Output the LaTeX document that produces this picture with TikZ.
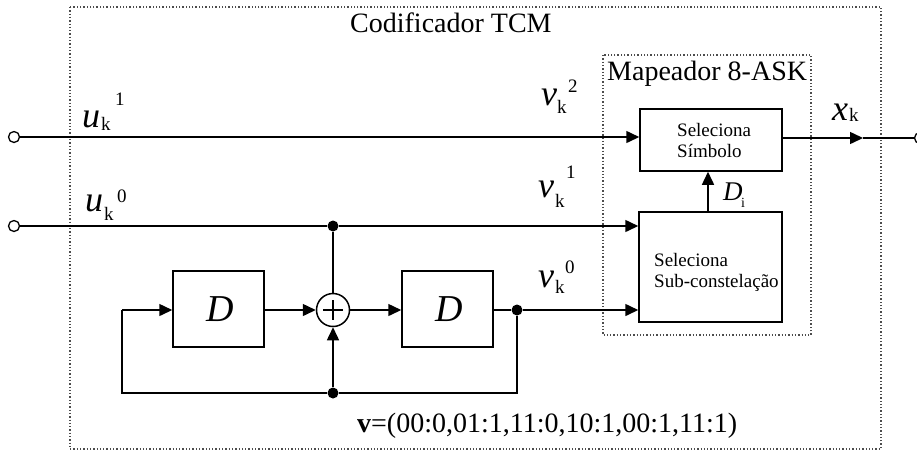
\documentclass[tikz,border=0pt]{standalone}
\usepackage{fontspec}
\setmainfont{Liberation Serif}
\usetikzlibrary{arrows.meta}
\tikzset{
  wire/.style={line width=1.5pt, black},
  arr/.style={wire, -{Triangle[length=13pt,width=12pt]}},
  blk/.style={draw, line width=1.5pt, minimum width=#1, inner sep=0pt},
  frame/.style={draw=black!70, line width=1.3pt, dotted},
  dot/.style={circle, fill=black, inner sep=0pt, minimum size=11pt},
  port/.style={circle, draw, line width=1.3pt, fill=white, inner sep=0pt, minimum size=11pt},
  sym/.style={font=\fontsize{36}{36}\selectfont\itshape, inner sep=0pt, anchor=base west},
  idx/.style={font=\fontsize{19}{19}\selectfont, inner sep=0pt, anchor=base west},
  small/.style={font=\fontsize{19}{21}\selectfont, inner sep=0pt, align=left, anchor=base west},
  big/.style={font=\fontsize{28}{28}\selectfont, inner sep=0pt, anchor=base west}
}
\begin{document}
\begin{tikzpicture}[x=1pt, y=-1pt]
\useasboundingbox (0,0) rectangle (917,451);

% dotted frames
\draw[frame] (70,7) rectangle (881,449);
\draw[frame] (603,55) rectangle (811,335);
\node[big] (title) at (350,32) {Codificador TCM};
\node[big] (map) at (607,80) {Mapeador 8-ASK};

% mapper blocks
\node[blk=142pt, minimum height=62pt] (sel) at (711,140) {};
\node[small] (seltxt) at (677,157) {Seleciona\\Símbolo};
\node[blk=143pt, minimum height=110pt] (sub) at (710.5,267) {};
\node[small] (subtxt) at (654,287) {Seleciona\\Sub-constelação};

% shift register and adder
\node[blk=91pt, minimum height=76pt] (d1) at (218.5,309) {};
\node[sym, font=\fontsize{38}{38}\selectfont\itshape] at (206,321) {D};
\node[blk=91pt, minimum height=76pt] (d2) at (447.5,309) {};
\node[sym, font=\fontsize{38}{38}\selectfont\itshape] at (435,321) {D};
\node[circle, draw, line width=1.5pt, minimum size=33pt, inner sep=0pt] (add) at (333,310) {};
\draw[line width=1.1pt] (323,310) -- (343,310) (333,300) -- (333,320);

% ports and junctions
\node[port] (in1) at (14,137) {};
\node[port] (in0) at (14,226) {};
\node[port] (out) at (920,138) {};
\node[dot] (j1) at (333,226) {};
\node[dot] (j2) at (517,310) {};
\node[dot] (j3) at (333,393) {};
\coordinate (c1) at (517,393);
\coordinate (c2) at (122,393);
\coordinate (c3) at (122,310);
\coordinate (xa) at (863,138);

% connectors
\draw[arr] (in1) -- (sel.west |- in1);
\draw[wire] (in0) -- (j1);
\draw[arr] (j1) -- (sub.west |- j1);
\draw[wire] (j1) -- (add.north);
\draw[arr] (d1.east |- add) -- (add.west);
\draw[arr] (add.east) -- (d2.west |- add);
\draw[wire] (d2.east |- j2) -- (j2);
\draw[arr] (j2) -- (sub.west |- j2);
\draw[wire] (j2) -- (c1) -- (j3);
\draw[wire] (j3) -- (c2) -- (c3);
\draw[arr] (c3) -- (d1.west |- c3);
\draw[arr] (j3) -- (add.south);
\draw[arr] (sub.north -| 708,0) -- (sel.south -| 708,0);
\draw[arr] (sel.east |- xa) -- (xa);
\draw[wire] (xa) -- (out);

% signal labels
\node[sym] at (82,127) {u};
\node[idx] at (101,130) {k};
\node[idx] at (115,105) {1};
\node[sym] at (85,211) {u};
\node[idx] at (104,220) {k};
\node[idx] at (117,202) {0};
\node[sym] at (541,105) {v};
\node[idx] at (557,113) {k};
\node[idx] at (568,92) {2};
\node[sym] at (538,197) {v};
\node[idx] at (555,207) {k};
\node[idx] at (566,178) {1};
\node[sym] at (538,287) {v};
\node[idx] at (555,293) {k};
\node[idx] at (565,273) {0};
\node[sym] at (832,120) {x};
\node[idx] at (849,121) {k};
\node[font=\fontsize{27}{27}\selectfont\itshape, inner sep=0pt, anchor=base west] at (723,200) {D};
\node[font=\fontsize{14}{14}\selectfont, inner sep=0pt, anchor=base west] at (741,207) {i};
\node[big] (vec) at (357,432) {\textbf{v}=(00:0,01:1,11:0,10:1,00:1,11:1)};
\end{tikzpicture}
\end{document}
